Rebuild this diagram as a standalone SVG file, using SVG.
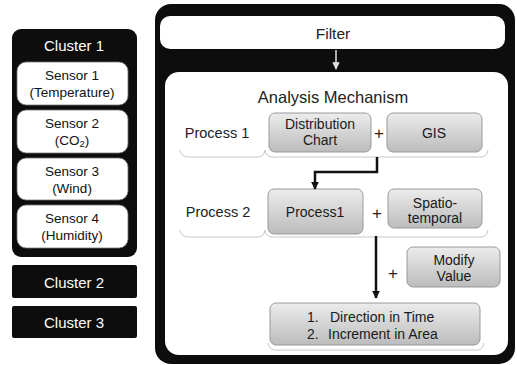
<svg xmlns="http://www.w3.org/2000/svg" width="517" height="365" viewBox="0 0 517 365">
<style>
text{font-family:"Liberation Sans",Arial,sans-serif;text-anchor:middle;dominant-baseline:central}
.cl{fill:#fff;font-size:15px}
.sn{fill:#111;font-size:13.5px}
.bx{fill:#1a1a1a;font-size:14px}
.lb{fill:#222;font-size:14.5px}
.sens{fill:#fff;stroke:#777;stroke-width:0.8}
.gray{fill:url(#g);stroke:#999;stroke-width:1}
.grp{fill:none;stroke:#c8c8c8;stroke-width:1}
.con{fill:none;stroke:#111;stroke-width:2.5}
</style>
<defs>
<linearGradient id="g" x1="0" y1="0" x2="0" y2="1">
<stop offset="0" stop-color="#ececec"/>
<stop offset="1" stop-color="#bcbcbc"/>
</linearGradient>
<marker id="ah" viewBox="0 0 10 10" refX="9" refY="5" markerWidth="3.2" markerHeight="3.2" orient="auto" markerUnits="strokeWidth">
<path d="M0,0 L10,5 L0,10 z" fill="#111"/>
</marker>
<marker id="ahw" viewBox="0 0 10 10" refX="9" refY="5" markerWidth="5" markerHeight="5" orient="auto" markerUnits="strokeWidth">
<path d="M0,0 L10,5 L0,10 z" fill="#e0e0e0"/>
</marker>
</defs>
<rect width="517" height="365" fill="#fff"/>

<g id="cluster1">
<rect x="12" y="29" width="125" height="228" rx="9" fill="#0d0d0d"/>
<text class="cl" x="74" y="45">Cluster 1</text>
</g>
<g id="sensor1">
<rect class="sens" x="17" y="62" width="111" height="43" rx="9"/>
<text class="sn" x="72" y="75">Sensor 1</text>
<text class="sn" x="72" y="92">(Temperature)</text>
</g>
<g id="sensor2">
<rect class="sens" x="17" y="110" width="111" height="43" rx="9"/>
<text class="sn" x="72" y="123">Sensor 2</text>
<text class="sn" x="72" y="140">(CO<tspan font-size="9.5" dy="3">2</tspan><tspan dy="-3">)</tspan></text>
</g>
<g id="sensor3">
<rect class="sens" x="17" y="158" width="111" height="42" rx="9"/>
<text class="sn" x="72" y="171">Sensor 3</text>
<text class="sn" x="72" y="188">(Wind)</text>
</g>
<g id="sensor4">
<rect class="sens" x="17" y="205" width="111" height="43" rx="9"/>
<text class="sn" x="72" y="218">Sensor 4</text>
<text class="sn" x="72" y="235">(Humidity)</text>
</g>
<g id="cluster2">
<rect x="12" y="265" width="125" height="33" rx="2" fill="#0d0d0d"/>
<text class="cl" x="74" y="282">Cluster 2</text>
</g>
<g id="cluster3">
<rect x="12" y="306" width="125" height="32" rx="2" fill="#0d0d0d"/>
<text class="cl" x="74" y="322">Cluster 3</text>
</g>

<g id="frame">
<rect x="155" y="4" width="360" height="360" rx="16" fill="#0d0d0d"/>
</g>
<g id="filter">
<rect x="160" y="16" width="345" height="33" rx="10" fill="#fff"/>
<text x="333" y="33" fill="#222" font-size="15.5">Filter</text>
</g>
<g id="analysis">
<rect x="165" y="72" width="343" height="283" rx="14" fill="#fff"/>
<text x="333" y="97" fill="#222" font-size="16.5">Analysis Mechanism</text>
</g>

<g id="process1-row">
<path class="grp" d="M180,150 Q181,157 188,157 H258 Q264,157 265,150"/>
<path class="grp" d="M265,150 Q266,157 273,157 H481 Q487,157 488,150"/>
<text class="lb" x="217" y="133">Process 1</text>
</g>
<g id="distribution">
<rect class="gray" x="269" y="113" width="102" height="39" rx="6"/>
<text class="bx" x="320" y="124">Distribution</text>
<text class="bx" x="320" y="140">Chart</text>
</g>
<g id="plus1"><text x="379" y="133" fill="#222" font-size="17">+</text></g>
<g id="gis">
<rect class="gray" x="387" y="113" width="95" height="39" rx="6"/>
<text class="bx" x="434" y="133">GIS</text>
</g>

<g id="process2-row">
<path class="grp" d="M180,230 Q181,237 188,237 H258 Q264,237 265,230"/>
<path class="grp" d="M265,230 Q266,237 273,237 H481 Q487,237 488,230"/>
<text class="lb" x="218" y="212">Process 2</text>
</g>
<g id="process1box">
<rect class="gray" x="268" y="189" width="95" height="45" rx="6"/>
<text class="bx" x="315" y="212">Process1</text>
</g>
<g id="plus2"><text x="377" y="213" fill="#222" font-size="17">+</text></g>
<g id="spatio">
<rect class="gray" x="388" y="189" width="94" height="39" rx="6"/>
<text class="bx" x="435" y="203">Spatio-</text>
<text class="bx" x="435" y="218">temporal</text>
</g>
<g id="plus3"><text x="393" y="273" fill="#222" font-size="17">+</text></g>
<g id="modify">
<rect class="gray" x="407" y="247" width="93" height="40" rx="6"/>
<text class="bx" x="454" y="260">Modify</text>
<text class="bx" x="454" y="276">Value</text>
</g>
<g id="result">
<path class="grp" d="M268,343 Q269,350 276,350 H477 Q483,350 484,343"/>
<rect class="gray" x="270" y="303" width="210" height="42" rx="6"/>
<text class="bx" x="307" y="317" style="text-anchor:start">1.</text>
<text class="bx" x="330" y="317" style="text-anchor:start">Direction in Time</text>
<text class="bx" x="307" y="334" style="text-anchor:start">2.</text>
<text class="bx" x="328" y="334" style="text-anchor:start">Increment in Area</text>
</g>

<g id="connectors">
<path d="M336,50 V69" fill="none" stroke="#e0e0e0" stroke-width="1.5" marker-end="url(#ahw)"/>
<path class="con" d="M377,157 V172 H315 V189" marker-end="url(#ah)"/>
<path class="con" d="M376,236 V298" marker-end="url(#ah)"/>
</g>
</svg>
